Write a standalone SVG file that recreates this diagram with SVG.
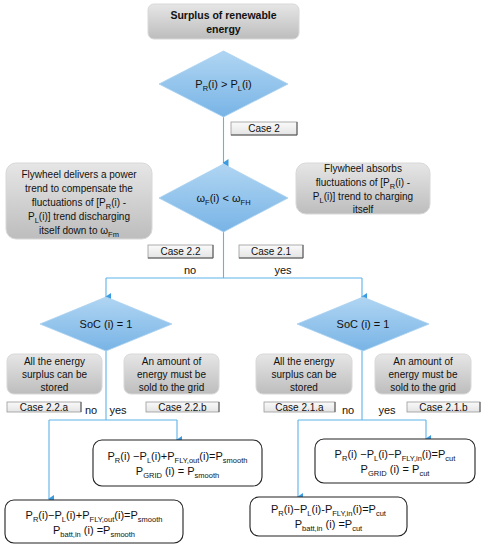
<svg xmlns="http://www.w3.org/2000/svg" width="486" height="550" viewBox="0 0 486 550">
<defs>
<linearGradient id="gGray" x1="0" y1="0" x2="0" y2="1">
<stop offset="0" stop-color="#e6e6e6"/><stop offset="1" stop-color="#bdbdbd"/>
</linearGradient>
<linearGradient id="gBlue" x1="0" y1="0" x2="0" y2="1">
<stop offset="0" stop-color="#b0d5f2"/><stop offset="1" stop-color="#78b4e6"/>
</linearGradient>
<linearGradient id="gCase" x1="0" y1="0" x2="0" y2="1">
<stop offset="0" stop-color="#fafafa"/><stop offset="1" stop-color="#e4e4e4"/>
</linearGradient>
<marker id="arr" markerWidth="8" markerHeight="8" refX="4" refY="6" orient="auto" markerUnits="userSpaceOnUse" viewBox="0 0 8 8">
<path d="M0,1 L8,1 L4,7 Z" fill="#3b9be0"/>
</marker>
<style>
text{font-family:"Liberation Sans",Arial,sans-serif;fill:#111;text-anchor:middle}
.t{font-size:10px}
.b{font-size:10.5px;font-weight:bold}
.m{font-size:11px}
.s{font-size:7.5px}
.gray{fill:url(#gGray);stroke:#d8d8d8;stroke-width:1}
.dia{fill:url(#gBlue);stroke:#a8d0f0;stroke-width:0.8}
.case{fill:url(#gCase);stroke:#9a9a9a;stroke-width:0.8}
.res{fill:#fff;stroke:#222;stroke-width:1.1}
.c{fill:none;stroke:#5db3ea;stroke-width:1.1}
</style>
</defs>

<g id="connectors">
<path class="c" d="M223.5,117 V163" marker-end="url(#arr)"/>
<path class="c" d="M223.5,232 V278 M106,278 H362"/>
<path class="c" d="M106,278 V297" marker-end="url(#arr)"/>
<path class="c" d="M362,278 V297" marker-end="url(#arr)"/>
<path class="c" d="M106,351 V420 M49,420 H177"/>
<path class="c" d="M177,420 V440" marker-end="url(#arr)"/>
<path class="c" d="M49,420 V499" marker-end="url(#arr)"/>
<path class="c" d="M362,351 V420 M298,420 H426"/>
<path class="c" d="M426,420 V439" marker-end="url(#arr)"/>
<path class="c" d="M298,420 V497" marker-end="url(#arr)"/>
</g>

<g id="start">
<rect class="gray" x="148" y="4" width="151" height="35" rx="6"/>
<text class="b" x="223.5" y="19">Surplus of renewable</text>
<text class="b" x="223.5" y="33">energy</text>
</g>

<g id="dec1">
<polygon class="dia" points="223.5,51 288,84 223.5,117 159,84"/>
<text class="m" x="223.5" y="88">P<tspan class="s" dy="2.5">R</tspan><tspan dy="-2.5">(i) &gt; P</tspan><tspan class="s" dy="2.5">L</tspan><tspan dy="-2.5">(i)</tspan></text>
</g>

<g id="case2">
<rect class="case" x="231" y="122" width="66" height="13"/>
<path d="M297,122 V135 H231" fill="none" stroke="#555" stroke-width="1"/>
<text class="t" x="264" y="132">Case 2</text>
</g>

<g id="dec2">
<polygon class="dia" points="223.5,164 288,198 223.5,232 159,198"/>
<text class="m" x="223.5" y="202">ω<tspan class="s" dy="2.5">F</tspan><tspan dy="-2.5">(i) &lt; ω</tspan><tspan class="s" dy="2.5">FH</tspan></text>
</g>

<g id="fly-deliver">
<rect class="gray" x="6" y="163" width="146" height="76" rx="10"/>
<text class="t" x="79" y="178">Flywheel delivers a power</text>
<text class="t" x="79" y="192">trend to compensate the</text>
<text class="t" x="79" y="206">fluctuations of [P<tspan class="s" dy="2.5">R</tspan><tspan dy="-2.5">(i) -</tspan></text>
<text class="t" x="79" y="220">P<tspan class="s" dy="2.5">L</tspan><tspan dy="-2.5">(i)] trend discharging</tspan></text>
<text class="t" x="79" y="234">itself down to ω<tspan class="s" dy="2.5">Fm</tspan></text>
</g>

<g id="fly-absorb">
<rect class="gray" x="296" y="163" width="134" height="51" rx="10"/>
<text class="t" x="363" y="172">Flywheel absorbs</text>
<text class="t" x="363" y="186">fluctuations of [P<tspan class="s" dy="2.5">R</tspan><tspan dy="-2.5">(i) -</tspan></text>
<text class="t" x="363" y="200">P<tspan class="s" dy="2.5">L</tspan><tspan dy="-2.5">(i)] trend to charging</tspan></text>
<text class="t" x="363" y="213">itself</text>
</g>

<g id="case22">
<rect class="case" x="148" y="245" width="65" height="13"/>
<path d="M213,245 V258 H148" fill="none" stroke="#555" stroke-width="1"/>
<text class="t" x="180.5" y="255">Case 2.2</text>
<text class="m" x="190" y="274">no</text>
</g>

<g id="case21">
<rect class="case" x="239" y="245" width="64" height="13"/>
<path d="M303,245 V258 H239" fill="none" stroke="#555" stroke-width="1"/>
<text class="t" x="271" y="255">Case 2.1</text>
<text class="m" x="283" y="274">yes</text>
</g>

<g id="soc-left">
<polygon class="dia" points="106,297 172,324 106,351 40,324"/>
<text class="m" x="106" y="328">SoC (i) = 1</text>
</g>

<g id="soc-right">
<polygon class="dia" points="363,297 429,324 363,351 297,324"/>
<text class="m" x="363" y="328">SoC (i) = 1</text>
</g>

<g id="stored-left">
<rect class="gray" x="7" y="354" width="95" height="40" rx="7"/>
<text class="t" x="54.5" y="365">All the energy</text>
<text class="t" x="54.5" y="378">surplus can be</text>
<text class="t" x="54.5" y="391">stored</text>
</g>

<g id="sold-left">
<rect class="gray" x="124" y="354" width="95" height="40" rx="7"/>
<text class="t" x="171.5" y="365">An amount of</text>
<text class="t" x="171.5" y="378">energy must be</text>
<text class="t" x="171.5" y="391">sold to the grid</text>
</g>

<g id="stored-right">
<rect class="gray" x="256" y="354" width="96" height="40" rx="7"/>
<text class="t" x="304" y="365">All the energy</text>
<text class="t" x="304" y="378">surplus can be</text>
<text class="t" x="304" y="391">stored</text>
</g>

<g id="sold-right">
<rect class="gray" x="375" y="354" width="96" height="40" rx="7"/>
<text class="t" x="423" y="365">An amount of</text>
<text class="t" x="423" y="378">energy must be</text>
<text class="t" x="423" y="391">sold to the grid</text>
</g>

<g id="case22a">
<rect class="case" x="7" y="402" width="74" height="10"/>
<path d="M81,402 V412" fill="none" stroke="#555" stroke-width="1"/>
<text class="t" x="44" y="411">Case 2.2.a</text>
<text class="m" x="91" y="414">no</text>
<text class="m" x="118" y="414">yes</text>
</g>

<g id="case22b">
<rect class="case" x="146" y="402" width="73" height="10"/>
<path d="M219,402 V412" fill="none" stroke="#555" stroke-width="1"/>
<text class="t" x="182.5" y="411">Case 2.2.b</text>
</g>

<g id="case21a">
<rect class="case" x="264" y="402" width="71" height="10"/>
<path d="M335,402 V412" fill="none" stroke="#555" stroke-width="1"/>
<text class="t" x="299.5" y="411">Case 2.1.a</text>
<text class="m" x="348" y="414">no</text>
<text class="m" x="387" y="414">yes</text>
</g>

<g id="case21b">
<rect class="case" x="407" y="402" width="73" height="10"/>
<path d="M480,402 V412" fill="none" stroke="#555" stroke-width="1"/>
<text class="t" x="443.5" y="411">Case 2.1.b</text>
</g>

<g id="res-22b">
<rect class="res" x="93" y="440" width="169" height="46" rx="9"/>
<text class="m" x="177.5" y="460">P<tspan class="s" dy="2.5">R</tspan><tspan dy="-2.5">(i) −P</tspan><tspan class="s" dy="2.5">L</tspan><tspan dy="-2.5">(i)+P</tspan><tspan class="s" dy="2.5">FLY,out</tspan><tspan dy="-2.5">(i)=P</tspan><tspan class="s" dy="2.5">smooth</tspan></text>
<text class="m" x="177.5" y="475">P<tspan class="s" dy="2.5">GRID</tspan><tspan dy="-2.5"> (i) = P</tspan><tspan class="s" dy="2.5">smooth</tspan></text>
</g>

<g id="res-22a">
<rect class="res" x="5" y="500" width="178" height="43" rx="9"/>
<text class="m" x="94" y="519">P<tspan class="s" dy="2.5">R</tspan><tspan dy="-2.5">(i)−P</tspan><tspan class="s" dy="2.5">L</tspan><tspan dy="-2.5">(i)+P</tspan><tspan class="s" dy="2.5">FLY,out</tspan><tspan dy="-2.5">(i)=P</tspan><tspan class="s" dy="2.5">smooth</tspan></text>
<text class="m" x="94" y="534">P<tspan class="s" dy="2.5">batt,in</tspan><tspan dy="-2.5"> (i) =P</tspan><tspan class="s" dy="2.5">smooth</tspan></text>
</g>

<g id="res-21b">
<rect class="res" x="315" y="439" width="160" height="44" rx="9"/>
<text class="m" x="395" y="458">P<tspan class="s" dy="2.5">R</tspan><tspan dy="-2.5">(i) −P</tspan><tspan class="s" dy="2.5">L</tspan><tspan dy="-2.5">(i)−P</tspan><tspan class="s" dy="2.5">FLY,in</tspan><tspan dy="-2.5">(i)=P</tspan><tspan class="s" dy="2.5">cut</tspan></text>
<text class="m" x="395" y="473">P<tspan class="s" dy="2.5">GRID</tspan><tspan dy="-2.5"> (i) = P</tspan><tspan class="s" dy="2.5">cut</tspan></text>
</g>

<g id="res-21a">
<rect class="res" x="250" y="497" width="157" height="39" rx="9"/>
<text class="m" x="328.5" y="513">P<tspan class="s" dy="2.5">R</tspan><tspan dy="-2.5">(i)−P</tspan><tspan class="s" dy="2.5">L</tspan><tspan dy="-2.5">(i)-P</tspan><tspan class="s" dy="2.5">FLY,in</tspan><tspan dy="-2.5">(i)=P</tspan><tspan class="s" dy="2.5">cut</tspan></text>
<text class="m" x="328.5" y="528">P<tspan class="s" dy="2.5">batt,in</tspan><tspan dy="-2.5"> (i) =P</tspan><tspan class="s" dy="2.5">cut</tspan></text>
</g>
</svg>
